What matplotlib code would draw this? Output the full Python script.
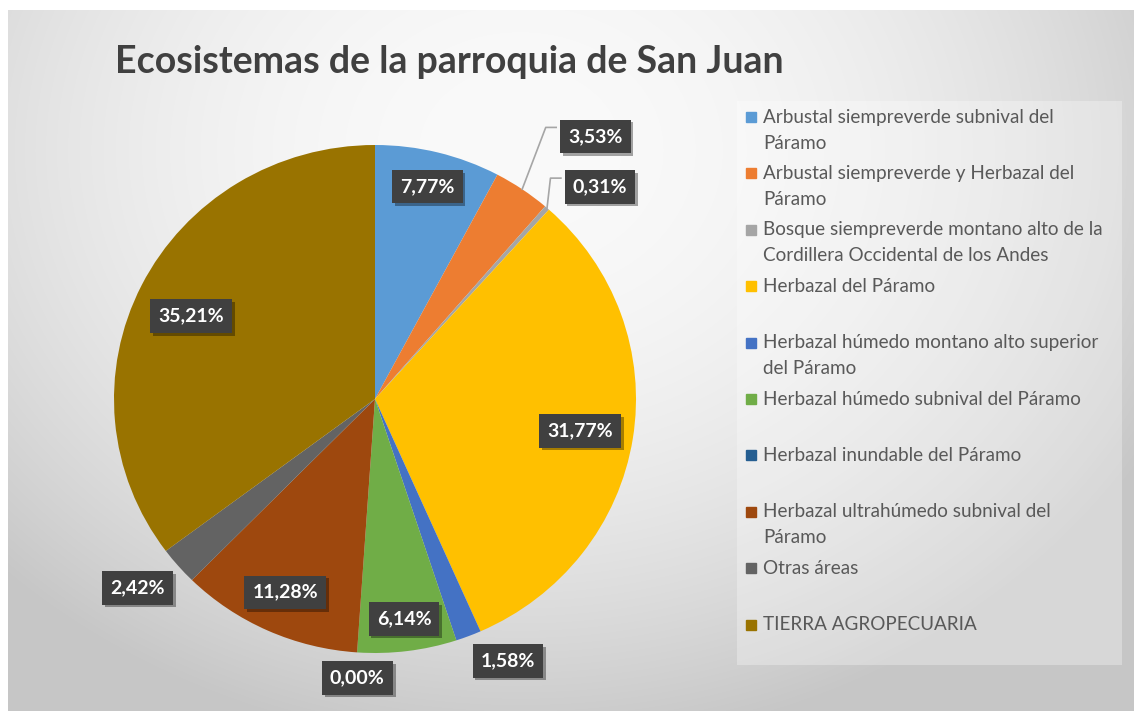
import matplotlib.pyplot as plt
import matplotlib.patheffects as pe
import numpy as np

# ecosistemas y porcentaje de superficie
labels = [
    "Arbustal siempreverde subnival del\nPáramo",
    "Arbustal siempreverde y Herbazal del\nPáramo",
    "Bosque siempreverde montano alto de la\nCordillera Occidental de los Andes",
    "Herbazal del Páramo",
    "Herbazal húmedo montano alto superior\ndel Páramo",
    "Herbazal húmedo subnival del Páramo",
    "Herbazal inundable del Páramo",
    "Herbazal ultrahúmedo subnival del\nPáramo",
    "Otras áreas",
    "TIERRA AGROPECUARIA",
]
values = [7.77, 3.53, 0.31, 31.77, 1.58, 6.14, 0.00, 11.28, 2.42, 35.21]
colors = ["#5B9BD5", "#ED7D31", "#A5A5A5", "#FFC000", "#4472C4",
          "#70AD47", "#255E91", "#9E480E", "#636363", "#997300"]
# posicion de cada etiqueta: distancia radial y giro respecto al centro de la porcion
label_r = [0.86, 1.335, 1.20, 0.795, 1.15, 0.873, 1.10, 0.835, 1.174, 0.777]
label_shift = [0.5, -4.9, -4.7, -0.1, 5.3, 0.2, 0.4, -0.1, -1.8, 1.8]
leader = [False, True, True, False, False, False, False, False, False, False]

W, H = 1134, 711
fig = plt.figure(figsize=(W / 100, H / 100), dpi=100)
fig.patch.set_facecolor("white")

# fondo con degradado radial
bg = fig.add_axes([8 / W, 0, 1 - 8 / W, 1 - 10 / H], zorder=-5)
yy, xx = np.mgrid[10:H, 8:W]
d2 = ((xx - 520) / 750.0) ** 2 + ((yy - 150) / 620.0) ** 2
shade = np.clip(250 - 55 * d2, 198, 250) / 255.0
bg.imshow(np.dstack([shade, shade, shade]), aspect="auto", extent=[0, 1, 0, 1])
bg.axis("off")

fig.text(115 / W, 1 - 62 / H, "Ecosistemas de la parroquia de San Juan",
         fontsize=27, fontweight="bold", family="Lato", color="#404040",
         va="center", ha="left")

# pastel
cx, cy, rx, ry = 375, 399, 261, 254
ax = fig.add_axes([(cx - rx) / W, (H - cy - ry) / H, 2 * rx / W, 2 * ry / H])
wedges, _ = ax.pie(values, colors=colors, startangle=90, counterclock=False,
                   wedgeprops=dict(linewidth=0))
ax.set_aspect("auto")
ax.set_xlim(-1, 1)
ax.set_ylim(-1, 1)
ax.axis("off")

for w, v, r, sh, ld in zip(wedges, values, label_r, label_shift, leader):
    mid = np.deg2rad((w.theta1 + w.theta2) / 2)
    ang = mid + np.deg2rad(sh)
    lx, ly = r * np.cos(ang), r * np.sin(ang)
    if ld:
        ex, ey = np.cos(mid), np.sin(mid)
        ax.plot([ex, lx - 0.19, lx - 0.15], [ey, ly + 0.035, ly + 0.035],
                color="#A6A6A6", lw=1.2, clip_on=False, zorder=1)
    t = ax.text(lx, ly, f"{v:.2f}%".replace(".", ","), ha="center", va="center",
                fontsize=14, fontweight="bold", family="Lato", color="white",
                zorder=5, clip_on=False,
                bbox=dict(boxstyle="square,pad=0.42", fc="#404040", ec="none"))
    t.get_bbox_patch().set_path_effects([
        pe.SimplePatchShadow(offset=(2, -2), shadow_rgbFace="black", alpha=0.35),
        pe.Normal()])

# leyenda
lg = fig.add_axes([737 / W, (H - 665) / H, (1122 - 737) / W, (665 - 101) / H])
lg.set_xlim(737, 1122)
lg.set_ylim(665, 101)
lg.set_facecolor((1, 1, 1, 0.3))
for s in lg.spines.values():
    s.set_visible(False)
lg.set_xticks([])
lg.set_yticks([])
for i, (lab, c) in enumerate(zip(labels, colors)):
    y0 = 117 + i * 56.4
    lg.add_patch(plt.Rectangle((746, y0 - 5), 10, 10, color=c))
    for j, line in enumerate(lab.split("\n")):
        lg.text(763, y0 + j * 26, line, fontsize=13.6, family="Lato",
                color="#595959", va="center", ha="left")

fig.savefig("out.png", dpi=100)
